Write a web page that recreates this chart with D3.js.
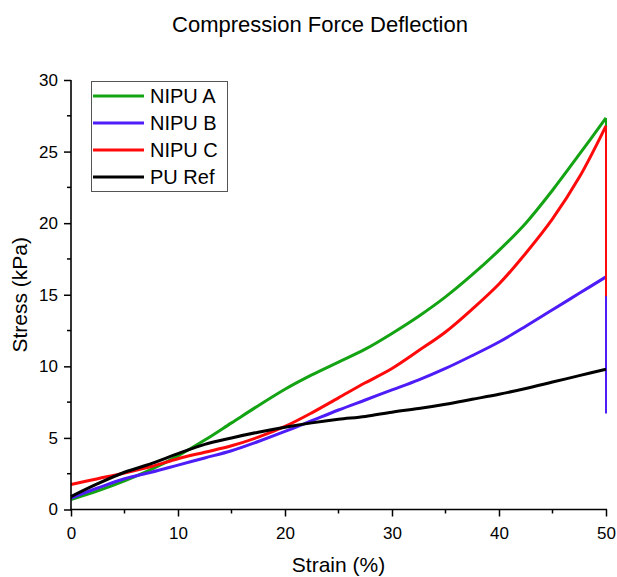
<!DOCTYPE html>
<html>
<head>
<meta charset="utf-8">
<script src="https://cdn.jsdelivr.net/npm/d3@7"></script>
<style>
  body { margin: 0; background: #fff; }
  text { font-family: Arial, "Liberation Sans", sans-serif; fill: #000; }
</style>
</head>
<body>
<svg></svg>
<script>
'use strict'

let width = 617,
	height = 577

// strain (%) sample points
let strain = [0, 2.5, 5, 7.5, 10, 12.5, 15, 17.5, 20, 22.5, 25, 27.5, 30, 32.5, 35, 37.5, 40, 42.5, 45, 47.5, 50]

// stress (kPa) per sample
let nipuA = [0.7, 1.3, 2.0, 2.8, 3.75, 4.85, 6.05, 7.25, 8.4, 9.4, 10.3, 11.2, 12.3, 13.5, 14.85, 16.4, 18.1, 20.0, 22.3, 24.8, 27.35]
let nipuB = [0.8, 1.5, 2.15, 2.6, 3.1, 3.6, 4.1, 4.75, 5.45, 6.2, 6.95, 7.65, 8.35, 9.05, 9.85, 10.75, 11.7, 12.8, 13.95, 15.1, 16.25]
let nipuC = [1.75, 2.15, 2.55, 3.0, 3.55, 4.0, 4.45, 5.05, 5.8, 6.75, 7.8, 8.85, 9.85, 11.1, 12.4, 14.0, 15.75, 17.9, 20.3, 23.2, 26.8]
let puRef = [0.9, 1.8, 2.6, 3.2, 3.9, 4.55, 5.0, 5.4, 5.75, 6.05, 6.3, 6.5, 6.8, 7.05, 7.35, 7.7, 8.05, 8.45, 8.9, 9.35, 9.8]

// stress the sample falls back to when unloaded at 50 %
let dropA = 20
let dropB = 6.7
let dropC = 14.9

let seriesNames = ['NIPU A', 'NIPU B', 'NIPU C', 'PU Ref']
let seriesColors = ['#13a313', '#4d1cf7', '#ff0a0a', '#000000']

let xTicks = [0, 10, 20, 30, 40, 50]
let yTicks = [0, 5, 10, 15, 20, 25, 30]

let series = [
	{ name: seriesNames[0], color: seriesColors[0], values: nipuA, drop: dropA },
	{ name: seriesNames[1], color: seriesColors[1], values: nipuB, drop: dropB },
	{ name: seriesNames[2], color: seriesColors[2], values: nipuC, drop: dropC },
	{ name: seriesNames[3], color: seriesColors[3], values: puRef, drop: null }
]

let svg = d3.select('svg')
	.attr('width', width)
	.attr('height', height)

let x = d3.scaleLinear().domain([0, 50]).range([71, 606])
let y = d3.scaleLinear().domain([0, 30]).range([509.5, 80])

let line = d3.line()
	.x(function(d) { return x(d[0]) })
	.y(function(d) { return y(d[1]) })
	.curve(d3.curveCatmullRom.alpha(0.5))

// curves
series.forEach(function(s) {
	let pts = strain.map(function(v, i) { return [v, s.values[i]] })
	svg.append('path')
		.attr('d', line(pts))
		.attr('fill', 'none')
		.attr('stroke', s.color)
		.attr('stroke-width', 3)
		.attr('stroke-linejoin', 'round')
	if (s.drop !== null) {
		svg.append('line')
			.attr('x1', x(50)).attr('x2', x(50))
			.attr('y1', y(s.values[s.values.length - 1]))
			.attr('y2', y(s.drop))
			.attr('stroke', s.color)
			.attr('stroke-width', 2)
	}
})

// axes
let xAxis = d3.axisBottom(x).tickValues(xTicks).tickSize(7).tickPadding(10).tickFormat(d3.format('d'))
let yAxis = d3.axisLeft(y).tickValues(yTicks).tickSize(7).tickPadding(6).tickFormat(d3.format('d'))

let gx = svg.append('g').attr('transform', 'translate(0,' + y(0) + ')').call(xAxis)
let gy = svg.append('g').attr('transform', 'translate(' + x(0) + ',0)').call(yAxis)

// minor ticks
gx.selectAll('.minor').data(d3.range(5, 50, 10)).enter().append('line')
	.attr('x1', function(d) { return x(d) }).attr('x2', function(d) { return x(d) })
	.attr('y1', 0).attr('y2', 4)
	.attr('stroke', '#000').attr('stroke-width', 1.5)
gy.selectAll('.minor').data(d3.range(2.5, 30, 5)).enter().append('line')
	.attr('y1', function(d) { return y(d) }).attr('y2', function(d) { return y(d) })
	.attr('x1', 0).attr('x2', -4)
	.attr('stroke', '#000').attr('stroke-width', 1.5)

gx.select('.domain').remove()
gy.select('.domain').remove()
gx.append('line').attr('x1', x(0) - 1).attr('x2', x(50) + 1).attr('y1', 0).attr('y2', 0)
	.attr('stroke', '#000').attr('stroke-width', 1.6)
gy.append('line').attr('x1', 0).attr('x2', 0).attr('y1', y(30)).attr('y2', y(0) + 1)
	.attr('stroke', '#000').attr('stroke-width', 1.6)

svg.selectAll('.tick line').attr('stroke-width', 1.5)
svg.selectAll('.tick text')
	.style('font-size', '17px')
	.style('font-family', 'Arial, "Liberation Sans", sans-serif')

// titles
svg.append('text')
	.attr('x', 320).attr('y', 32)
	.attr('text-anchor', 'middle')
	.style('font-size', '22px')
	.text('Compression Force Deflection')

svg.append('text')
	.attr('x', (x(0) + x(50)) / 2).attr('y', 572)
	.attr('text-anchor', 'middle')
	.style('font-size', '21px')
	.text('Strain (%)')

svg.append('text')
	.attr('transform', 'translate(27,' + ((y(0) + y(30)) / 2) + ') rotate(-90)')
	.attr('text-anchor', 'middle')
	.style('font-size', '21px')
	.text('Stress (kPa)')

// legend
let legend = svg.append('g')
legend.append('rect')
	.attr('x', 91.5).attr('y', 81.5)
	.attr('width', 136).attr('height', 110)
	.attr('fill', '#fff')
	.attr('stroke', '#555')
	.attr('stroke-width', 1)

let item = legend.selectAll('.item')
	.data(series)
	.enter().append('g')
	.attr('transform', function(d, i) { return 'translate(0,' + (96 + i * 27) + ')' })

item.append('line')
	.attr('x1', 93).attr('x2', 144)
	.attr('stroke', function(d) { return d.color })
	.attr('stroke-width', 3)

item.append('text')
	.attr('x', 150).attr('y', 7)
	.style('font-size', '20px')
	.text(function(d) { return d.name })
</script>
</body>
</html>
